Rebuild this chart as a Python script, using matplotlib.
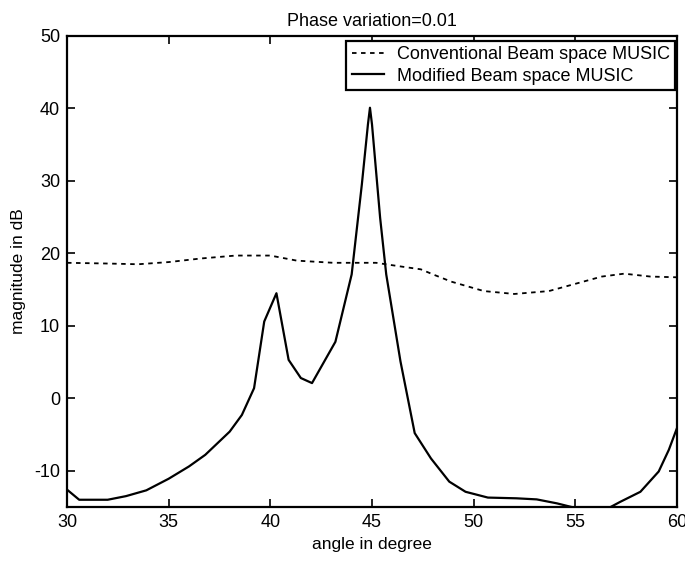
import matplotlib
matplotlib.use("Agg")
import matplotlib.pyplot as plt

# Data
x_conv = [30, 32, 33.5, 35, 36.6, 38.3, 40.0, 41.3, 43.1, 45.2, 46.4, 47.4, 48.0,
          48.9, 50.5, 52.0, 53.7, 55.0, 56.3, 57.4, 58.7, 60]
y_conv = [18.7, 18.6, 18.5, 18.8, 19.3, 19.7, 19.7, 19.0, 18.7, 18.7, 18.2, 17.8, 17.1,
          16.1, 14.8, 14.4, 14.8, 15.8, 16.8, 17.2, 16.8, 16.7]

x_mod = [30, 30.6, 32.0, 32.9, 33.9, 35.0, 36.0, 36.8, 38.0, 38.6, 39.2, 39.7, 40.3,
         40.9, 41.5, 42.05, 43.2, 44.0, 44.5, 44.8, 44.9, 45.0, 45.4, 45.7, 46.4, 47.1,
         47.9, 48.8, 49.6, 50.7, 52.1, 53.1, 54.1, 55.1, 56.2, 56.4, 57.2, 58.2, 59.1,
         59.6, 60.0]
y_mod = [-12.6, -14.0, -14.0, -13.5, -12.7, -11.1, -9.4, -7.8, -4.6, -2.3, 1.4, 10.6, 14.5,
         5.3, 2.8, 2.1, 7.8, 17.1, 29.5, 37.8, 40.1, 37.8, 24.9, 17.1, 5.1, -4.8,
         -8.3, -11.5, -12.9, -13.7, -13.8, -13.95, -14.5, -15.2, -15.4, -15.5, -14.3, -12.9, -10.1,
         -7.1, -4.1]

x_ticks = [30, 35, 40, 45, 50, 55, 60]
y_ticks = [-10, 0, 10, 20, 30, 40, 50]

plt.rcParams['font.family'] = ['Liberation Sans', 'DejaVu Sans']
plt.rcParams['axes.unicode_minus'] = False

fig = plt.figure(figsize=(6.85, 5.62), dpi=100)
ax = fig.add_axes([67/685, 1 - 507/562, 610/685, 471/562])

ax.plot(x_conv, y_conv, color='black', linewidth=1.3, linestyle=(0, (2.5, 2.5)),
        label='Conventional Beam space MUSIC')
ax.plot(x_mod, y_mod, color='black', linewidth=1.6, label='Modified Beam space MUSIC')

ax.set_xlim(30, 60)
ax.set_ylim(-15, 50)
ax.set_xticks(x_ticks)
ax.set_yticks(y_ticks)
ax.tick_params(direction='in', top=True, right=True, labelsize=13, length=6, width=1.2, pad=5)
for s in ax.spines.values():
    s.set_linewidth(1.6)

ax.set_title('Phase variation=0.01', fontsize=13, pad=7)
ax.set_xlabel('angle in degree', fontsize=12.5, labelpad=4)
ax.set_ylabel('magnitude in dB', fontsize=12.5, labelpad=6)

leg = ax.legend(loc='upper right', bbox_to_anchor=(0.997, 0.99), fontsize=13, frameon=True,
                fancybox=False, borderaxespad=0, borderpad=0.3, labelspacing=0.25,
                handlelength=1.8, handletextpad=0.7, edgecolor='black', framealpha=1)
leg.get_frame().set_linewidth(1.6)

fig.savefig('out.png', dpi=100)
